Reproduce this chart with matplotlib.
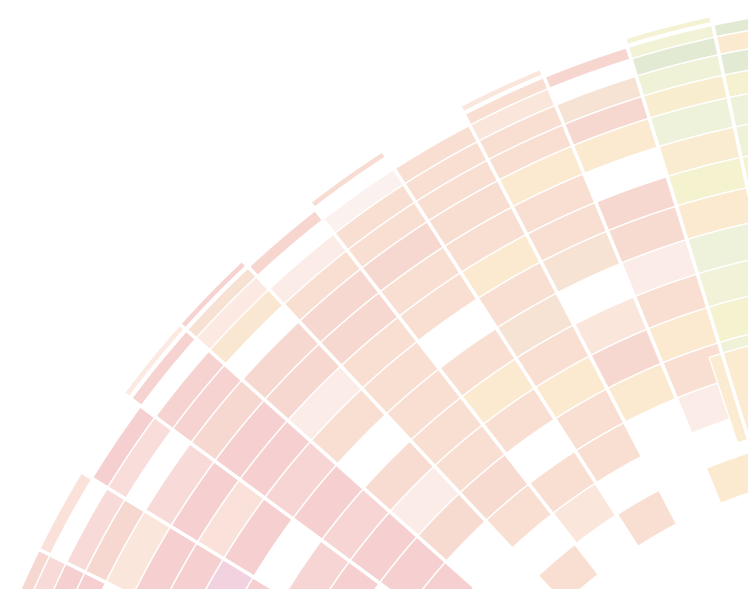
import numpy as np
import matplotlib.pyplot as plt
from matplotlib.colors import LinearSegmentedColormap

nan = np.nan

# --- Datos: un valor por celda (sector x anillo), nan = celda vacia ---
# anillos de fuera hacia dentro, sectores de derecha (arriba) a izquierda (abajo)
s00 = [nan, 1.0, 0.63, 1.0, 0.78, 0.9, 0.88, 0.8, 0.63, 0.9, 0.88, 0.8, nan, nan, nan, nan, nan, nan, nan]
s01 = [0.82, 0.86, 1.0, 0.88, 0.7, 0.9, 0.68, 0.8, 0.63, 0.9, 0.87, 0.8, 0.88, 0.63, nan, nan, nan, nan, nan]
s02 = [nan, 0.38, nan, 0.55, 0.4, 0.63, nan, 0.4, 0.42, 0.08, 0.48, 0.63, 0.48, 0.08, nan, 0.63, nan, nan, nan]
s03 = [0.12, 0.48, 0.12, 0.48, 0.48, 0.63, 0.48, 0.48, 0.55, nan, 0.12, 0.4, 0.63, nan, nan, nan, nan, nan, nan]
s04 = [nan, nan, 0.48, 0.48, 0.48, 0.46, 0.48, 0.63, 0.48, 0.55, 0.48, 0.63, 0.48, 0.48, nan, 0.48, nan, nan, nan]
s05 = [0.45, nan, 0.04, 0.48, 0.48, 0.4, 0.48, 0.48, nan, 0.48, 0.63, 0.48, nan, 0.48, 0.12, nan, nan, nan, nan]
s06 = [nan, 0.38, nan, 0.08, 0.48, 0.4, 0.4, 0.48, 0.48, 0.48, 0.48, 0.48, 0.44, 0.48, nan, 0.48, nan, nan, nan]
s07 = [0.33, 0.52, 0.1, 0.6, nan, 0.4, 0.4, 0.08, 0.48, nan, 0.45, 0.08, 0.42, nan, nan, nan, nan, nan, nan]
s08 = [0.1, 0.33, nan, 0.33, 0.33, 0.4, 0.3, 0.3, 0.25, 0.3, 0.25, 0.3, 0.3, 0.3, nan, nan, nan, nan, nan]
s09 = [nan, nan, 0.3, 0.18, nan, 0.2, 0.3, 0.15, 0.3, nan, 0.25, 0.3, nan, nan, nan, nan, nan, nan, nan]
s10 = [nan, 0.15, nan, 0.2, 0.4, 0.12, 0.3, 0.3, 0.0, 0.3, nan, nan, nan, nan, nan, nan, nan, nan, nan]
s11 = [nan, 0.4, 0.2, 0.3, 0.3, nan, nan, nan, nan, nan, nan, nan, nan, nan, nan, nan, nan, nan, nan]
sectores = [s00, s01, s02, s03, s04, s05, s06, s07, s08, s09, s10, s11]

# celda suelta desplazada (capa superpuesta a la derecha)
extra_val = [0.66]

# --- Escala radial (px desde el centro) ---
r_ext = [986, 977, 965, 947, 926, 903, 873, 842, 811, 776, 740, 705, 668, 630, 592, 554, 516, 478, 440]
r_int = [980, 965, 947, 926, 903, 873, 842, 811, 776, 740, 705, 668, 630, 592, 554, 516, 478, 440, 402]

ang0 = 96.82   # primer borde de sector (grados)
paso = 5.18    # ancho de sector (grados)

# colores palidos
pos = [0.0, 0.04, 0.08, 0.12, 0.18, 0.30, 0.40, 0.48, 0.55, 0.63, 0.80, 0.90, 1.0]
cols = ['#f2d2de', '#fbf3ef', '#fbece8', '#fbe6da', '#f8ddda', '#f6d0d0', '#f7d8d0',
        '#f9dfd1', '#f6e3d3', '#fcead0', '#f5f2d0', '#eff2da', '#e2ead4']
cmap = LinearSegmentedColormap.from_list('palido', list(zip(pos, cols)))

# --- Figura ---
W, H = 748, 589
cx, cy = 916, 981   # centro del circulo (px, y desde arriba)
R = 1000
fig = plt.figure(figsize=(W / 100, H / 100), dpi=100)
ax = fig.add_axes([(cx - R) / W, (H - cy - R) / H, 2 * R / W, 2 * R / H], projection='polar')
ax.set_ylim(0, R)
ax.set_axis_off()

for j, vals in enumerate(sectores):
    th = np.radians(ang0 + paso * (j + 0.5))
    for i, v in enumerate(vals):
        if np.isnan(v):
            continue
        ax.bar(th, r_ext[i] - r_int[i], width=np.radians(paso), bottom=r_int[i],
               color=cmap(v), edgecolor='white', linewidth=1.0)

# capa superpuesta
ax.bar(np.radians(108.35 - paso / 2), 657 - 567, width=np.radians(paso), bottom=567,
       color=cmap(extra_val[0]), edgecolor='white', linewidth=1.0)

# radios blancos entre sectores
for k in range(len(sectores) + 1):
    t = np.radians(ang0 + paso * k)
    ax.plot([t, t], [300, R], color='white', lw=2.6, solid_capstyle='butt')

fig.savefig('out.png', dpi=100)
